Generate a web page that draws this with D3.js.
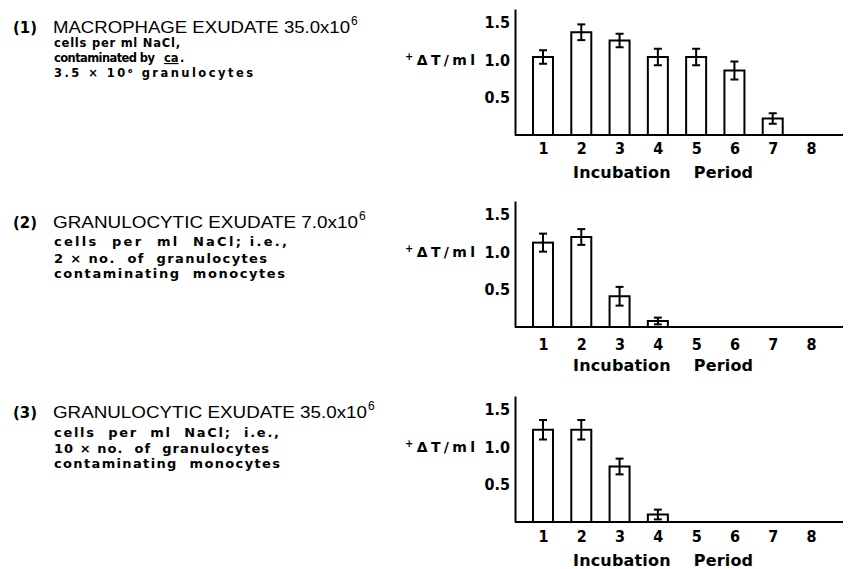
<!DOCTYPE html>
<html>
<head>
<meta charset="utf-8">
<script src="https://cdn.jsdelivr.net/npm/d3@7"></script>
<style>
  body { margin: 0; background: #fff; }
  svg { display: block; }
  .head { font-family: "Liberation Sans", "DejaVu Sans", sans-serif; }
  .bold { font-family: "DejaVu Sans", sans-serif; font-weight: bold; }
  .cond { font-family: "DejaVu Sans Condensed", "DejaVu Sans", sans-serif; font-weight: bold; font-stretch: condensed; }
  .axis .domain { stroke: #000; stroke-width: 2px; }
  .axis text { fill: #000; }
</style>
</head>
<body>
<div id="chart"></div>
<script>
// Incubation periods (x categories)
var periods = [1, 2, 3, 4, 5, 6, 7, 8];

// (1) macrophage exudate 35.0x10^6
var macroMean = [1.04, 1.37, 1.26, 1.04, 1.04, 0.86, 0.22, 0];
var macroErr  = [0.09, 0.105, 0.09, 0.11, 0.11, 0.12, 0.07, 0];

// (2) granulocytic exudate 7.0x10^6
var gran7Mean = [1.125, 1.2, 0.41, 0.08, 0, 0, 0, 0];
var gran7Err  = [0.12, 0.105, 0.125, 0.045, 0, 0, 0, 0];

// (3) granulocytic exudate 35.0x10^6
var gran35Mean = [1.23, 1.23, 0.74, 0.1, 0, 0, 0, 0];
var gran35Err  = [0.13, 0.13, 0.105, 0.065, 0, 0, 0, 0];

var yTicks = [0.5, 1.0, 1.5];

var panelNums = ["(1)", "(2)", "(3)"];
var titles = ["MACROPHAGE EXUDATE 35.0x10", "GRANULOCYTIC EXUDATE 7.0x10", "GRANULOCYTIC EXUDATE 35.0x10"];
var notes = [
    ["cells per ml NaCl,", "contaminated by", "3.5 × 10⁶ granulocytes"],
    ["cells  per  ml  NaCl; i.e.,", "2 × no.  of  granulocytes", "contaminating  monocytes"],
    ["cells  per  ml  NaCl;  i.e.,", "10 × no.  of  granulocytes", "contaminating  monocytes"]
];

// Layout of each panel (pixels)
var layout = [
    { title: 33,  notes: [47, 62, 77],    base: 135, tickDy: 13, label: 178, titleW: 297, notesW: [126, 101, 199], notesSize: 11.5 },
    { title: 228, notes: [246, 263, 278], base: 327, tickDy: 17, label: 371, titleW: 305, notesW: [233, 213, 231], notesSize: 13 },
    { title: 418, notes: [437, 453, 468], base: 522, tickDy: 14, label: 566, titleW: 314, notesW: [225, 215, 226], notesSize: 13 }
];

var panels = [
    { mean: macroMean, err: macroErr },
    { mean: gran7Mean, err: gran7Err },
    { mean: gran35Mean, err: gran35Err }
];

var svg = d3.select("#chart")
    .append("svg")
    .attr("width", 865)
    .attr("height", 569);

var unit = 75,        // pixels per 1.0 on the y axis
    axisX = 515,
    axisRight = 843,
    barW = 20;

var x = d3.scalePoint().domain(periods).range([543, 811]);

panels.forEach(function (p, i) {
    var L = layout[i];

    var y = d3.scaleLinear()
        .domain([0, 1.68])
        .range([L.base, L.base - unit * 1.68]);

    // Left hand description
    svg.append("text")
        .attr("class", "bold")
        .attr("x", 13)
        .attr("y", L.title)
        .attr("font-size", 15)
        .attr("textLength", 24)
        .attr("lengthAdjust", "spacingAndGlyphs")
        .text(panelNums[i]);

    svg.append("text")
        .attr("class", "head")
        .attr("x", 53)
        .attr("y", L.title)
        .attr("font-size", 16)
        .attr("textLength", L.titleW)
        .attr("lengthAdjust", "spacingAndGlyphs")
        .style("white-space", "pre")
        .text(titles[i]);

    svg.append("text")
        .attr("class", "head")
        .attr("x", 53 + L.titleW + 1)
        .attr("y", L.title - 8)
        .attr("font-size", 12)
        .text("6");

    notes[i].forEach(function (line, j) {
        svg.append("text")
            .attr("class", "bold")
            .attr("x", 54)
            .attr("y", L.notes[j])
            .attr("font-size", L.notesSize)
            .attr("textLength", L.notesW[j])
            .attr("lengthAdjust", "spacing")
            .style("white-space", "pre")
            .text(line);
    });

    // underlined "ca." after "contaminated by" in panel 1
    if (i === 0) {
        svg.append("text")
            .attr("class", "bold")
            .attr("x", 164)
            .attr("y", L.notes[1])
            .attr("font-size", L.notesSize)
            .style("text-decoration", "underline")
            .text("ca");
        svg.append("text")
            .attr("class", "bold")
            .attr("x", 180)
            .attr("y", L.notes[1])
            .attr("font-size", L.notesSize)
            .text(".");
    }

    // Y axis
    svg.append("g")
        .attr("class", "axis cond")
        .attr("transform", "translate(" + axisX + ",0)")
        .call(d3.axisLeft(y).tickValues(yTicks).tickSize(0).tickSizeOuter(0).tickPadding(5)
            .tickFormat(d3.format(".1f")))
        .attr("font-size", 16)
        .attr("font-family", null)
        .selectAll("text")
        .attr("font-weight", "bold");

    // Y axis label
    var yl = svg.append("text")
        .attr("class", "bold")
        .attr("x", 405)
        .attr("y", y(1.0) + 5)
        .attr("font-size", 14)
        .attr("textLength", 70)
        .attr("lengthAdjust", "spacing")
        .style("white-space", "pre");
    yl.append("tspan").attr("font-size", 10).attr("dy", -5).text("+");
    yl.append("tspan").attr("dy", 5).text("ΔT/ml");

    // Baseline
    svg.append("line")
        .attr("x1", axisX)
        .attr("x2", axisRight)
        .attr("y1", y(0))
        .attr("y2", y(0))
        .style("stroke", "#000")
        .style("stroke-width", 2);

    // X axis tick labels
    var xa = svg.append("g")
        .attr("class", "axis cond")
        .attr("transform", "translate(0," + y(0) + ")")
        .call(d3.axisBottom(x).tickSize(0).tickPadding(L.tickDy - 5.6))
        .attr("font-size", 16)
        .attr("font-family", null);
    xa.select(".domain").remove();
    xa.selectAll("text").attr("font-weight", "bold");

    // X axis label
    svg.append("text")
        .attr("class", "bold")
        .attr("x", 573)
        .attr("y", L.label)
        .attr("font-size", 16)
        .attr("textLength", 180)
        .attr("lengthAdjust", "spacing")
        .style("white-space", "pre")
        .text("Incubation    Period");

    var data = periods.map(function (d, k) {
        return { period: d, mean: p.mean[k], err: p.err[k] };
    }).filter(function (d) { return d.mean > 0; });

    // Bars
    svg.selectAll(null)
        .data(data)
        .enter()
        .append("rect")
        .attr("x", function (d) { return x(d.period) - barW / 2; })
        .attr("y", function (d) { return y(d.mean); })
        .attr("width", barW)
        .attr("height", function (d) { return y(0) - y(d.mean); })
        .style("fill", "#fff")
        .style("stroke", "#000")
        .style("stroke-width", 2);

    // Error bars
    var eb = svg.selectAll(null)
        .data(data)
        .enter()
        .append("g")
        .style("stroke", "#000")
        .style("stroke-width", 2);

    eb.append("line")
        .attr("x1", function (d) { return x(d.period); })
        .attr("x2", function (d) { return x(d.period); })
        .attr("y1", function (d) { return y(d.mean - d.err); })
        .attr("y2", function (d) { return y(d.mean + d.err); });

    eb.append("line")
        .attr("x1", function (d) { return x(d.period) - 4; })
        .attr("x2", function (d) { return x(d.period) + 4; })
        .attr("y1", function (d) { return y(d.mean + d.err); })
        .attr("y2", function (d) { return y(d.mean + d.err); });

    eb.append("line")
        .attr("x1", function (d) { return x(d.period) - 4; })
        .attr("x2", function (d) { return x(d.period) + 4; })
        .attr("y1", function (d) { return y(d.mean - d.err); })
        .attr("y2", function (d) { return y(d.mean - d.err); });
});
</script>
</body>
</html>
